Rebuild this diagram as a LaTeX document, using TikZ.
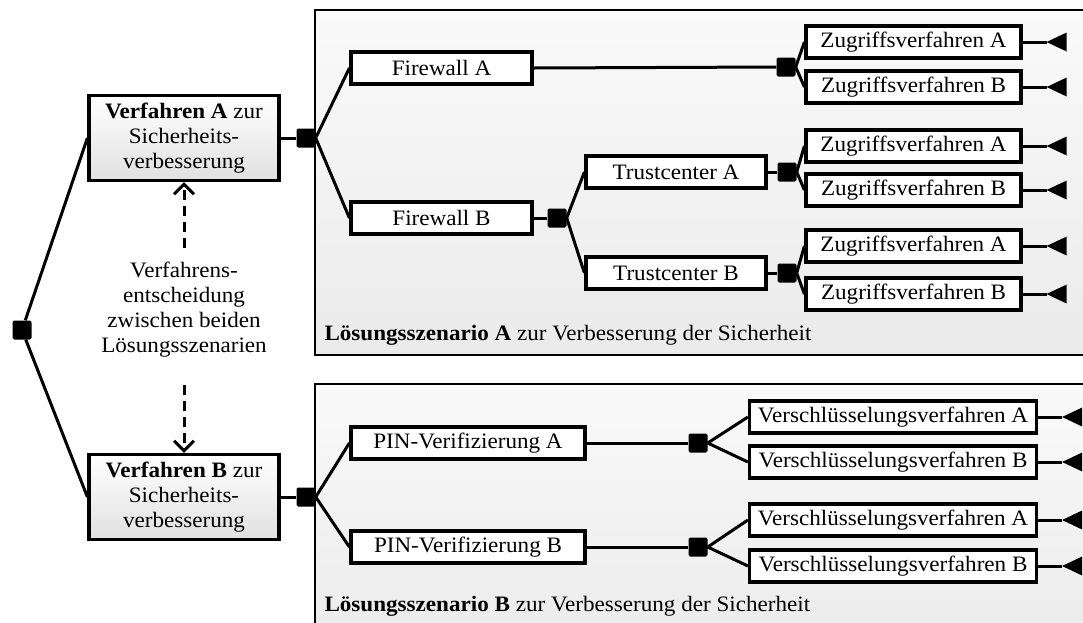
\documentclass[tikz,border=0pt]{standalone}
\usepackage{fontspec}
\setmainfont{Liberation Serif}[FakeStretch=1.05]
\usetikzlibrary{arrows.meta}

\begin{document}
\begin{tikzpicture}[x=1pt, y=-1pt,
  font=\fontsize{22}{25}\selectfont,
  conn/.style={line width=3pt},
  panel/.style={draw, line width=2.6pt, top color=black!2, bottom color=black!8},
  proc/.style={draw, line width=3.2pt, top color=white, bottom color=black!12,
    minimum width=190pt, minimum height=85pt, inner sep=0pt, align=center},
  optbox/.style={draw, line width=3.2pt, fill=white, inner sep=0pt, minimum height=32pt},
  fwbox/.style={optbox, minimum width=181pt},
  tcbox/.style={optbox, minimum width=180pt},
  zgbox/.style={optbox, minimum width=215pt},
  pinbox/.style={optbox, minimum width=234pt},
  vsbox/.style={optbox, minimum width=287pt},
  jn/.style={fill=black, rounded corners=2pt, minimum size=19pt, inner sep=0pt},
  choice/.style={conn, dash pattern=on 10pt off 6pt,
    -{Straight Barb[length=10pt, width=20pt, line width=3pt]}}
]
\clip (0,0) rectangle (1083,622);

% scenario panels
\draw[panel] (315,10) rectangle (1110,355);
\draw[panel] (315,384) rectangle (1110,650);
\node[anchor=base west] (labA) at (321,340) {\textbf{Lösungsszenario A} zur Verbesserung der Sicherheit};
\node[anchor=base west] (labB) at (321,611) {\textbf{Lösungsszenario B} zur Verbesserung der Sicherheit};

% root decision
\node[jn] (root) at (22,330) {};
\node[proc] (vA) at (184,138) {\textbf{Verfahren A} zur\\Sicherheits-\\verbesserung};
\node[proc] (vB) at (184,497) {\textbf{Verfahren B} zur\\Sicherheits-\\verbesserung};
\node[align=center] (dec) at (184,310) {Verfahrens-\\entscheidung\\zwischen beiden\\Lösungsszenarien};
\coordinate (decTop) at (184,248);
\coordinate (decBot) at (184,385);

\node[jn] (sA) at (306,138) {};
\node[jn] (sB) at (306,497) {};

% scenario A
\node[fwbox] (fwA) at (441.5,68) {Firewall A};
\node[fwbox] (fwB) at (441.5,218) {Firewall B};
\node[jn] (sfwA) at (786,67) {};
\node[jn] (sfwB) at (557,218) {};
\node[tcbox] (tcA) at (676,172) {Trustcenter A};
\node[tcbox] (tcB) at (676,273) {Trustcenter B};
\node[jn] (stcA) at (787,172) {};
\node[jn] (stcB) at (787,273) {};
\node[zgbox] (zA1) at (913.5,42) {Zugriffsverfahren A};
\node[zgbox] (zB1) at (913.5,87) {Zugriffsverfahren B};
\node[zgbox] (zA2) at (913.5,146) {Zugriffsverfahren A};
\node[zgbox] (zB2) at (913.5,190) {Zugriffsverfahren B};
\node[zgbox] (zA3) at (913.5,246) {Zugriffsverfahren A};
\node[zgbox] (zB3) at (913.5,294) {Zugriffsverfahren B};

% scenario B
\node[pinbox] (pinA) at (468,443) {PIN-Verifizierung A};
\node[pinbox] (pinB) at (468,547) {PIN-Verifizierung B};
\node[jn] (spinA) at (698,443) {};
\node[jn] (spinB) at (698,547) {};
\node[vsbox] (vsA1) at (893,417) {Verschlüsselungsverfahren A};
\node[vsbox] (vsB1) at (893,462) {Verschlüsselungsverfahren B};
\node[vsbox] (vsA2) at (893,520) {Verschlüsselungsverfahren A};
\node[vsbox] (vsB2) at (893,566) {Verschlüsselungsverfahren B};

% connectors
\draw[conn] (root) -- (vA.west);
\draw[conn] (root) -- (vB.west);
\draw[choice] (decTop) -- (vA.south);
\draw[choice] (decBot) -- (vB.north);
\draw[conn] (vA.east) -- (sA.west);
\draw[conn] (vB.east) -- (sB.west);

\draw[conn] (sA.east) -- (fwA.west);
\draw[conn] (sA.east) -- (fwB.west);
\draw[conn] (fwA.east) -- (sfwA.west);
\draw[conn] (fwB.east) -- (sfwB.west);
\draw[conn] (sfwA.east) -- (zA1.west);
\draw[conn] (sfwA.east) -- (zB1.west);
\draw[conn] (sfwB.east) -- (tcA.west);
\draw[conn] (sfwB.east) -- (tcB.west);
\draw[conn] (tcA.east) -- (stcA.west);
\draw[conn] (tcB.east) -- (stcB.west);
\draw[conn] (stcA.east) -- (zA2.west);
\draw[conn] (stcA.east) -- (zB2.west);
\draw[conn] (stcB.east) -- (zA3.west);
\draw[conn] (stcB.east) -- (zB3.west);

\draw[conn] (sB.east) -- (pinA.west);
\draw[conn] (sB.east) -- (pinB.west);
\draw[conn] (pinA.east) -- (spinA.west);
\draw[conn] (pinB.east) -- (spinB.west);
\draw[conn] (spinA.east) -- (vsA1.west);
\draw[conn] (spinA.east) -- (vsB1.west);
\draw[conn] (spinB.east) -- (vsA2.west);
\draw[conn] (spinB.east) -- (vsB2.west);

% terminal markers
\foreach \leaf in {zA1,zB1,zA2,zB2,zA3,zB3,vsA1,vsB1,vsA2,vsB2} {
  \coordinate (\leaf-t) at ([xshift=24pt]\leaf.east);
  \draw[conn] (\leaf.east) -- (\leaf-t);
  \fill (\leaf-t) -- ++(20,-9.5) -- ++(0,19) -- cycle;
}
\end{tikzpicture}
\end{document}
